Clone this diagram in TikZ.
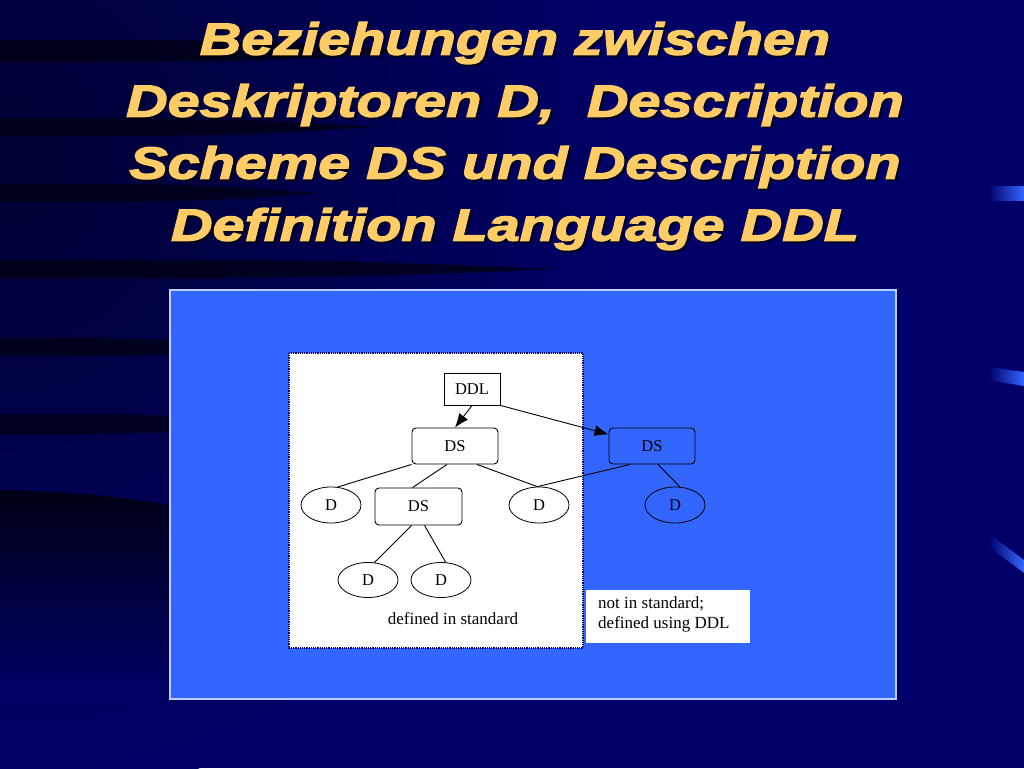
\documentclass[tikz,border=0pt]{standalone}
\usepackage{fontspec}
\setmainfont{Liberation Serif}
\newfontfamily\titlefont{Liberation Sans}[BoldItalicFeatures={FakeStretch=1.28,FakeBold=3}]
\usetikzlibrary{shapes.geometric,arrows.meta,positioning}

\definecolor{bgnavy}{RGB}{0,0,104}
\definecolor{bgdark}{RGB}{0,0,50}
\definecolor{bgshade}{RGB}{0,0,22}
\definecolor{panelblue}{RGB}{51,102,255}
\definecolor{titleyellow}{RGB}{255,204,102}
\definecolor{rimblue}{RGB}{190,205,255}

\tikzset{
	ddlbox/.style = {rectangle, draw, fill=white, line width=0.9pt,
		minimum width=56pt, minimum height=32pt, inner sep=0pt},
	dsbox/.style = {rectangle, draw, rounded corners=4pt, line width=0.9pt,
		minimum width=86pt, minimum height=36pt, inner sep=0pt},
	dcloud/.style = {ellipse, draw, line width=0.8pt,
		minimum width=60pt, minimum height=36pt, inner sep=0pt},
	line/.style = {draw, line width=0.9pt},
	arc/.style = {draw, line width=0.9pt, -{Latex[length=14pt,width=11pt]}},
	stripe/.style = {fill=bgshade, opacity=.8},
	bar/.style = {left color=bgnavy, right color=panelblue},
	labelbox/.style = {rectangle, fill=white, inner sep=0pt},
	headline/.style = {align=center, font=\titlefont\bfseries\itshape\fontsize{45}{62}\selectfont}
}

\begin{document}
\begin{tikzpicture}[x=1pt, y=-1pt]
	\useasboundingbox (0,0) rectangle (1024,768);
	
	%background
	\fill [bgnavy] (0,0) rectangle (1024,768);
	\begin{scope}
		\clip (0,0) rectangle (1024,768);
		\shade [inner color=bgdark, outer color=bgnavy] (0,160) circle (640);
	\end{scope}
	\foreach \ya/\yb/\xe in {40/62/430, 118/136/380, 184/202/320, 260/278/560, 338/356/260, 414/434/260}
		\fill [stripe] (0,\ya) .. controls (0.6*\xe,\ya) .. (\xe,{(\ya+\yb)/2}) .. controls (0.6*\xe,\yb) .. (0,\yb) -- cycle;
	\shade [top color=bgshade, bottom color=bgnavy] (0,490) .. controls (90,492) and (150,500) .. (200,512) -- (200,700) -- (0,700) -- cycle;
	
	\shade [bar] (988,186) rectangle (1024,200);
	\shade [bar] (988,367) -- (1024,372) -- (1024,386) -- (988,380) -- cycle;
	\shade [bar] (988,533) -- (1024,560) -- (1024,573) -- (988,546) -- cycle;
	
	%title
	\node [headline, text=black, opacity=.6] (titleshadow) at (517,138)
		{Beziehungen zwischen\\ Deskriptoren D,~ Description\\ Scheme DS und Description\\ Definition Language DDL};
	\node [headline, text=titleyellow] (title) at (515,136)
		{Beziehungen zwischen\\ Deskriptoren D,~ Description\\ Scheme DS und Description\\ Definition Language DDL};
	
	%panels
	\fill [panelblue, draw=rimblue, line width=1.2pt] (170,290) rectangle (896,699);
	\fill [white, draw=bgnavy, densely dotted, line width=1.2pt] (289,353) rectangle (583,648);
	
	\node [labelbox, minimum width=164pt, minimum height=53pt] (extbox) at (668,616.5) {};
	\node [inner sep=0pt, anchor=north west, align=left, font=\fontsize{17}{20}\selectfont] (extlabel) at (598,596)
		{not in standard;\\ defined using DDL};
	\node [inner sep=0pt, font=\fontsize{17}{20}\selectfont] (stdlabel) at (453,619) {defined in standard};
	
	%tree
	\begin{scope}[font=\fontsize{16.5}{20}\selectfont]
		\node [ddlbox] (ddl) at (472,389) {DDL};
		\node [dsbox] (dsTop) at (455,446) {DS};
		\node [dsbox] (dsExt) at (652,446) {DS};
		\node [dcloud] (dLeft) at (331,505) {D};
		\node [dsbox, minimum width=87pt, minimum height=37pt] (dsMid) at (418.5,506.5) {DS};
		\node [dcloud] (dMid) at (539,505) {D};
		\node [dcloud] (dExt) at (675,505) {D};
		\node [dcloud, minimum height=35pt] (dLL) at (368,580) {D};
		\node [dcloud, minimum height=35pt] (dLR) at (441,580) {D};
	\end{scope}
	
	\path [arc] (ddl.south) -- (dsTop.north);
	\path [arc] (ddl.south east) -- (dsExt.165);
	
	\path [line] (dsTop.south west) -- (dLeft.70);
	\path [line] ([xshift=-8pt]dsTop.south) -- ([xshift=-6pt]dsMid.north);
	\path [line] ([xshift=22pt]dsTop.south) -- (dMid.95);
	\path [line] ([xshift=-22pt]dsExt.south) -- (dMid.95);
	\path [line] ([xshift=6pt]dsExt.south) -- (dExt.75);
	\path [line] ([xshift=-7pt]dsMid.south) -- (dLL.70);
	\path [line] ([xshift=6pt]dsMid.south) -- (dLR.75);
	
\end{tikzpicture}
\end{document}
